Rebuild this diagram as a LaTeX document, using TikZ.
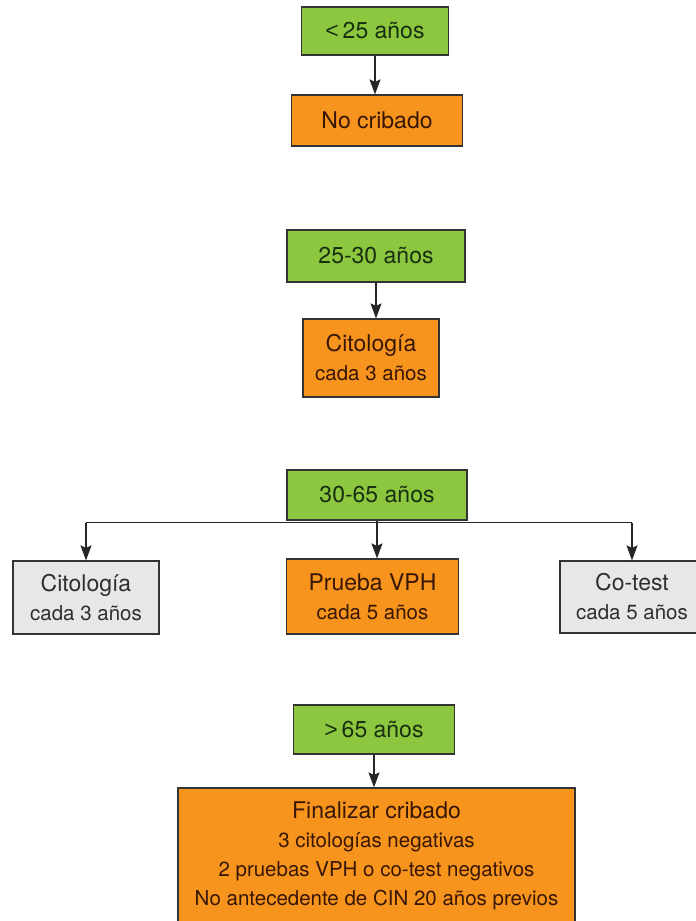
\documentclass[tikz,border=0pt]{standalone}
\usepackage{fontspec}
\setmainfont{TeX Gyre Heros}
\newfontfamily\signo{Liberation Sans}
\usetikzlibrary{arrows.meta}
\definecolor{verde}{HTML}{8DC63F}
\definecolor{naranja}{HTML}{F7941D}
\definecolor{gris}{HTML}{E6E7E8}
\definecolor{txtverde}{HTML}{183010}
\definecolor{txtnaranja}{HTML}{381705}
\definecolor{txtgris}{HTML}{2E2E2E}
\newcommand{\tamtit}{\fontsize{23}{29}\selectfont}
\newcommand{\tamsub}{\fontsize{20.5}{29}\selectfont}
\begin{document}
\begin{tikzpicture}[x=1pt,y=1pt,
 caja/.style={draw=black!80,line width=1.2pt,align=center,inner sep=0pt,font=\tamtit},
 edad/.style={caja,fill=verde,text=txtverde},
 prueba/.style={caja,fill=naranja,text=txtnaranja},
 otra/.style={caja,fill=gris,text=txtgris},
 flecha/.style={draw=black!85,line width=1.3pt,-{Stealth[length=15pt,width=11pt,inset=2.5pt]}}]
\useasboundingbox (0,0) rectangle (696,-921);
%Cajas
\node[edad,minimum width=147pt,minimum height=48pt] (menor25) at (375,-31) {{\signo<}\,25 años};
\node[prueba,minimum width=171pt,minimum height=51pt] (nocribado) at (377,-120.5) {No cribado};
\node[edad,minimum width=178pt,minimum height=52pt] (e2530) at (376,-256) {25-30 años};
\node[prueba,minimum width=136pt,minimum height=78pt] (citologia) at (371,-358) {Citología\\{\tamsub cada 3 años}};
\node[edad,minimum width=180pt,minimum height=50pt] (e3065) at (377,-495) {30-65 años};
\node[otra,minimum width=146pt,minimum height=73pt] (citologiab) at (86,-597.5) {Citología\\{\tamsub cada 3 años}};
\node[prueba,minimum width=172pt,minimum height=75pt] (vph) at (372.5,-596.5) {Prueba VPH\\{\tamsub cada 5 años}};
\node[otra,minimum width=144pt,minimum height=72pt] (cotest) at (632,-597) {Co-test\\{\tamsub cada 5 años}};
\node[edad,minimum width=161pt,minimum height=49pt] (mayor65) at (374,-729.5) {{\signo>}\,65 años};
\node[prueba,minimum width=397pt,minimum height=135pt] (finalizar) at (376.5,-855.5) {Finalizar cribado\\{\tamsub 3 citologías negativas}\\{\tamsub 2 pruebas VPH o co-test negativos}\\{\tamsub No antecedente de CIN 20 años previos}};
%Flechas
\coordinate[yshift=-2pt] (reparto) at (e3065.south);
\draw[flecha] (menor25) -- (menor25 |- nocribado.north);
\draw[flecha] (e2530) -- (e2530 |- citologia.north);
\draw[black!85,line width=1.3pt] (reparto -| citologiab) -- (reparto -| cotest);
\draw[flecha] (reparto -| citologiab) -- (citologiab);
\draw[flecha] (e3065.south) -- (e3065.south |- vph.north);
\draw[flecha] (reparto -| cotest) -- (cotest);
\draw[flecha] (mayor65) -- (mayor65 |- finalizar.north);
\end{tikzpicture}
\end{document}
